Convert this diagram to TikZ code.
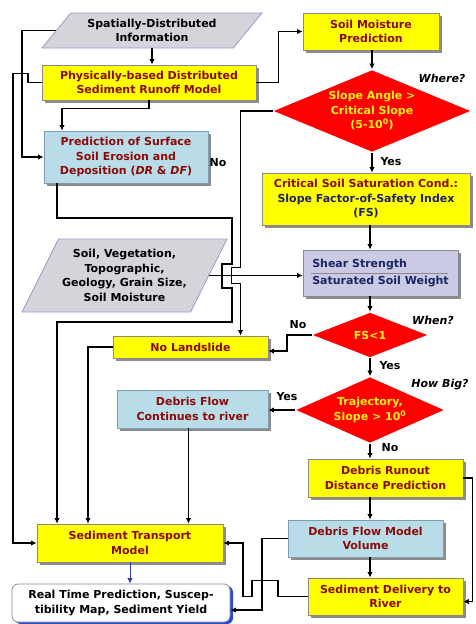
\documentclass[tikz,border=0pt]{standalone}
\usepackage{fontspec}
\setmainfont{DejaVu Sans}
\usetikzlibrary{arrows.meta, positioning, shapes.geometric, shadows, calc}
\definecolor{cyellow}{HTML}{FFFF00}
\definecolor{cred}{HTML}{8B0A0A}
\definecolor{cnavy}{HTML}{1C2463}
\definecolor{cgrey}{HTML}{8A8A8A}
\definecolor{clblue}{HTML}{B9DDE8}
\definecolor{cledge}{HTML}{7E9DB0}
\definecolor{clav}{HTML}{CACAE4}
\definecolor{cpara}{HTML}{D4D4DA}
\definecolor{cparaedge}{HTML}{9C9CD0}
\definecolor{cdiam}{HTML}{FF0000}
\definecolor{cgold}{HTML}{FFF01A}
\definecolor{cshadow}{HTML}{8C8C8C}
\definecolor{cblueshadow}{HTML}{2A4BD0}
\definecolor{cbluearrow}{HTML}{3A3AB0}
\tikzset{
  every picture/.style={font=\bfseries\fontsize{11}{14.5}\selectfont, line width=1.8pt},
  box/.style={draw=#1, line width=0.8pt, align=center, inner sep=2pt},
  box/.default=cgrey,
  shadowed/.style={drop shadow={shadow xshift=2.5pt, shadow yshift=-2.5pt, fill=cshadow, opacity=1}},
  ybox/.style={box, shadowed, fill=cyellow, text=cred},
  bbox/.style={box=cledge, shadowed, fill=clblue, text=cred},
  para/.style={trapezium, trapezium stretches body, draw=cparaedge, fill=cpara, line width=0.8pt, align=center, inner sep=1pt},
  dec/.style={diamond, fill=cdiam, draw=none, text=cgold, align=center, inner sep=0pt},
  arr/.style={-{Latex[length=5.5pt, width=5.5pt]}, line width=1.8pt},
  lbl/.style={font=\bfseries\fontsize{11}{14.5}\selectfont},
  ask/.style={font=\bfseries\itshape\fontsize{11}{14.5}\selectfont},
}
\begin{document}
\begin{tikzpicture}[x=1pt, y=-1pt]
  \useasboundingbox[fill=white] (0,0) rectangle (475,624);
  % left column
  \node[para, trapezium left angle=41, trapezium right angle=139, minimum width=220pt, minimum height=35pt] (spatial) at (152,30.5) {Spatially-Distributed\\Information};
  \node[ybox, minimum width=214pt, minimum height=35pt] (phys) at (149,82.5) {Physically-based Distributed\\Sediment Runoff Model};
  \node[bbox, minimum width=164pt, minimum height=52pt] (pred) at (126,157) {Prediction of Surface\\Soil Erosion and\\Deposition (\textit{DR} \& \textit{DF})};
  \node[para, trapezium left angle=56, trapezium right angle=124, minimum width=205pt, minimum height=73pt] (soil) at (124.5,275.5) {Soil, Vegetation,\\Topographic,\\Geology, Grain Size,\\Soil Moisture};
  \node[ybox, minimum width=155pt, minimum height=22pt] (nols) at (190.5,347) {No Landslide};
  \node[bbox, minimum width=151pt, minimum height=38pt] (dfc) at (192.5,409) {Debris Flow\\Continues to river};
  \node[ybox, minimum width=186pt, minimum height=38pt] (stm) at (130,543) {Sediment Transport\\Model};
  \node[box, fill=white, text=black, rounded corners=6pt, drop shadow={shadow xshift=3pt, shadow yshift=-2pt, fill=cblueshadow, opacity=1}, minimum width=218pt, minimum height=38pt] (rtp) at (121,603) {Real Time Prediction, Suscep-\\tibility Map, Sediment Yield};
  % right column
  \node[ybox, minimum width=136pt, minimum height=37pt] (soilm) at (371,31.5) {Soil Moisture\\Prediction};
  \node[dec, aspect=2.4, minimum width=197pt, minimum height=82pt] (slope) at (372,111) {Slope Angle >\\Critical Slope\\(5-10\textsuperscript{0})};
  \node[ybox, minimum width=208pt, minimum height=52pt] (crit) at (366,199) {Critical Soil Saturation Cond.:\\\textcolor{cnavy}{Slope Factor-of-Safety Index}\\\textcolor{cnavy}{(FS)}};
  \node[box, shadowed, fill=clav, text=cnavy, align=left, minimum width=155pt, minimum height=46pt] (shear) at (380.5,273) {Shear Strength\\[3pt]Saturated Soil Weight};
  \draw[cgrey, line width=0.8pt] ([xshift=8pt]shear.west) -- ([xshift=-10pt]shear.east);
  \node[dec, aspect=2.55, minimum width=115pt, minimum height=45pt] (fs) at (370,335) {FS<1};
  \node[dec, aspect=2.2, minimum width=148pt, minimum height=66pt] (traj) at (370,410) {Trajectory,\\Slope > 10\textsuperscript{0}};
  \node[ybox, minimum width=155pt, minimum height=38pt] (runout) at (385.5,478) {Debris Runout\\Distance Prediction};
  \node[bbox, minimum width=155pt, minimum height=37pt] (dfm) at (365.5,538.5) {Debris Flow Model\\Volume};
  \node[ybox, minimum width=155pt, minimum height=37pt] (sdel) at (385.5,596.5) {Sediment Delivery to\\River};
  % labels
  \node[lbl] (no1) at (218,163) {No};
  \node[lbl] (yes1) at (391,162) {Yes};
  \node[ask] (where) at (442,78) {Where?};
  \node[ask] (when) at (433,320) {When?};
  \node[lbl] (no2) at (298,325) {No};
  \node[lbl] (yes2) at (390,366) {Yes};
  \node[ask] (howbig) at (440,385) {How Big?};
  \node[lbl] (yes3) at (287,397) {Yes};
  \node[lbl] (no3) at (390,448) {No};
  % connectors
  \coordinate (nox) at ([xshift=50pt]nols.north);
  \coordinate (ero) at (57,322);
  \coordinate (dfo) at ([xshift=-4pt]dfc.south);
  \draw[arr] (spatial.south) -- (spatial.south |- phys.north);
  \draw[arr] (phys.east) -- ++(22,0) |- (soilm.west);
  \draw[arr] (phys.south) -- ++(0,8) -| ([xshift=-64pt]pred.north);
  \draw[arr] (spatial.west) -| ([xshift=-22pt]pred.west) -- (pred.west);
  \draw[arr] (phys.west) -- ++(-14,0) -- ++(0,-9) -| ([xshift=-24pt]stm.west) -- (stm.west);
  \draw[arr] ([xshift=13pt]pred.south west) |- (232,218) -- (232,264) -- (222,264) -- (222,288) -- (232,288) |- (ero) -- (ero |- stm.north);
  \draw[arr] (slope.west) -| ($(nox |- soil.east)+(0,-8)$) -- ++(-9,0) -- ++(0,16) -- ++(9,0) -- (nox);
  \draw[arr] (soil.east) -- (soil.east -| shear.west);
  \draw[arr] (slope.north |- soilm.south) -- (slope.north);
  \draw[arr] (slope.south) -- (slope.south |- crit.north);
  \draw[arr] (fs.north |- crit.south) -- (fs.north |- shear.north);
  \draw[arr] (fs.north |- shear.south) -- (fs.north);
  \draw[arr] (fs.west) -- ++(-25,0) |- ([yshift=-4pt]nols.east);
  \draw[arr] (nols.west) -| ([xshift=-42pt]stm.north);
  \draw[arr] (fs.south) -- (traj.north);
  \draw[arr] (traj.west) -- (traj.west -| dfc.east);
  \draw[arr] (dfo) -- (dfo |- stm.north);
  \draw[arr] (traj.south) -- (traj.south |- runout.north);
  \draw[arr] (traj.south |- runout.south) -- (traj.south |- dfm.north);
  \draw[arr] (traj.south |- dfm.south) -- (traj.south |- sdel.north);
  \draw[arr] (runout.east) -- ++(9,0) |- ([yshift=-5pt]sdel.east);
  \draw[arr] (dfm.west) -- ++(-26,0) |- ([yshift=-7pt]rtp.east);
  \draw[arr] (sdel.west) -- ++(-30,0) -- ++(0,-16) -- ++(-26,0) -- ++(0,16) -- ++(-9,0) |- (stm.east);
  \draw[arr, cbluearrow, line width=1pt] (stm.south) -- (stm.south |- rtp.north);
\end{tikzpicture}
\end{document}
